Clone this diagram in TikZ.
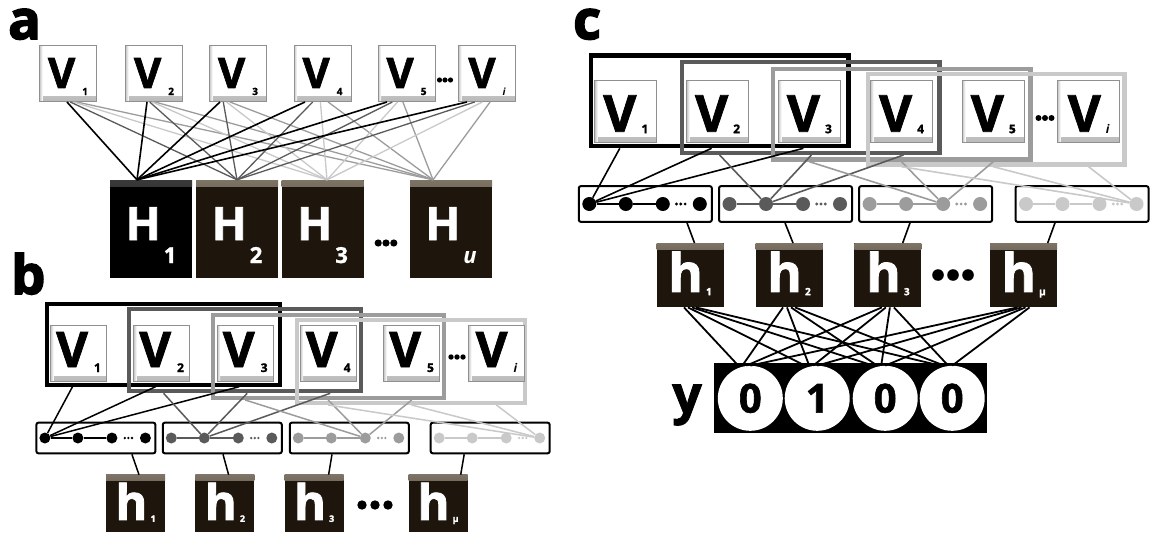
\documentclass[tikz,border=0pt]{standalone}
\usepackage{fontspec}
\newfontfamily\hv{Open Sans}[BoldFeatures={FakeBold=1.5}]
\newfontfamily\hvx{Open Sans}[BoldFeatures={FakeBold=3}]
\usetikzlibrary{calc}

\definecolor{ga}{HTML}{5A5A5A}
\definecolor{gb}{HTML}{9C9C9C}
\definecolor{gc}{HTML}{C9C9C9}
\definecolor{hbrown}{HTML}{1E160D}
\definecolor{hbtop}{HTML}{7E7466}
\definecolor{vedge}{HTML}{909090}

% letter with a lowered index at its lower right; baseline drops measured from the box centre
\newcommand\boxlab[7]{\smash{\raisebox{-#3pt}{\fontsize{#1}{#1}\selectfont #2}\hspace{#4pt}\raisebox{-#7pt}{\fontsize{#5}{#5}\selectfont #6}}}
\newcommand\Va[1]{\boxlab{42}{V}{14.5}{7}{10}{#1}{21.5}}
\newcommand\Vb[1]{\boxlab{49}{V}{13.6}{6}{12}{#1}{18.6}}
\newcommand\Vc[1]{\boxlab{51}{V}{20}{5}{12}{#1}{21.5}}
\newcommand\Ha[1]{\boxlab{46}{H}{11}{3}{22}{#1}{34}}
\newcommand\hb[1]{\boxlab{49}{h}{16.5}{3}{9}{#1}{18.5}}
\newcommand\hc[1]{\boxlab{53}{h}{16.7}{3}{10}{#1}{20}}
% three filled dots centred on a named coordinate
\newcommand\tridots[4]{\foreach \t in {-1,0,1} \fill[#4] ($(#1)+(\t*#2,0)$) circle[radius=#3pt];}

\tikzset{
  every node/.style={inner sep=0pt, font=\hv\bfseries},
  panel/.style={font={\hvx\bfseries\fontsize{54}{54}\selectfont}},
  vbox/.style={draw=vedge, line width=1pt, fill=white, path picture={
      \shade[top color=white, bottom color=gray!55] ([yshift=5pt]path picture bounding box.south west) rectangle (path picture bounding box.south east);
      \shade[left color=gray!45, right color=white] (path picture bounding box.south west) rectangle ([xshift=3pt]path picture bounding box.north west);}},
  hbox/.style 2 args={fill=#1, text=white, path picture={
      \shade[top color=#2, bottom color=#1] (path picture bounding box.north west) rectangle ([yshift=-6pt]path picture bounding box.north east);}},
  win/.style={draw=#1, line width=4pt},
  chain/.style={draw=black, line width=2pt, fill=white, rounded corners=2pt},
  unit/.style={circle, fill=#1},
}

\begin{document}
\begin{tikzpicture}[x=1pt,y=-1pt]
\useasboundingbox[fill=white] (0,0) rectangle (1153,535);

% ---------------- panel a: fully connected layers ----------------
\node[panel, anchor=base west] (la) at (8,39) {a};
\foreach \i/\x/\s in {1/68/1,2/154/2,3/238/3,4/322.5/4,5/406.5/5,6/487/{\itshape i}}
  \node[vbox, minimum width=57pt, minimum height=56pt] (va\i) at (\x,73.5) {\Va{\s}};
\coordinate (eva) at (445,80);
\tridots{eva}{5.5}{2.6}{black}

\node[hbox={black}{gray!45!black}, minimum width=82pt, minimum height=98pt] (ha1) at (151,229) {\Ha{1}};
\foreach \i/\x/\s in {2/237/2,3/322.5/3,4/451/{\itshape u}}
  \node[hbox={hbrown}{hbtop}, minimum width=82pt, minimum height=98pt] (ha\i) at (\x,229) {\Ha{\s}};
\coordinate (eha) at (386,243);
\tridots{eha}{7.8}{3.6}{black}

\foreach \j/\e/\c/\w in {4/-18/gb/1.3, 3/4.5/gc/1.3, 2/0/ga/1.3, 1/-14/black/1.6}
  \foreach \k/\b/\s in {1/-1/3.3, 2/-7/2.7, 3/-18/3.3, 4/-17.5/7.7, 5/-19.5/5.3, 6/-20/7.7}
    \draw[line width=\w pt, \c] ($(va\k.south)+({\b+\s*(\j-1)},0)$) -- ($(ha\j.north)+(\e,0)$);

% ---------------- panel b: windows onto feature maps ----------------
\node[panel, anchor=base west] (lb) at (11,294) {b};
\node[win=black, minimum width=233.5pt, minimum height=81pt] (wb1) at (163.35,344.2) {};
\node[win=ga, minimum width=231.7pt, minimum height=82.6pt] (wb2) at (244.65,350) {};
\node[win=gb, minimum width=231.7pt, minimum height=82.7pt] (wb3) at (328.55,356.65) {};
\node[win=gc, minimum width=228.2pt, minimum height=82.7pt] (wb4) at (410.7,361.65) {};

\foreach \i/\x/\s in {1/78.5/1,2/161.6/2,3/245.2/3,4/328.2/4,5/411.6/5,6/496.4/{\itshape i}}
  \node[vbox, minimum width=56pt, minimum height=56pt] (vb\i) at (\x,353.4) {\Vb{\s}};
\coordinate (evb) at (457,357);
\tridots{evb}{6}{2.7}{black}

\foreach \k/\x/\c in {1/95.9/black,2/222.3/ga,3/349.3/gb,4/490.2/gc}{
  \node[chain, minimum width=119pt, minimum height=30.6pt] (cb\k) at (\x,438) {};
  \foreach \j/\o in {1/-51,2/-18,3/16,4/49.5}
    \node[unit=\c, minimum size=11pt] (cb\k d\j) at ($(cb\k)+(\o,0)$) {};
  \draw[\c, line width=1.5pt] (cb\k d1) -- (cb\k d2) -- (cb\k d3);
  \coordinate (cb\k e) at ($(cb\k)+(32.5,0)$);
  \tridots{cb\k e}{3.6}{1.3}{\c}
}
\foreach \k/\c/\o in {1/black/-6,2/ga/2,3/gb/0,4/gc/0}
  \foreach \m in {0,1,2}{
    \pgfmathtruncatemacro\v{\k+\m}
    \draw[\c, line width=1.5pt] ($(vb\v |- wb\k.south)+(\o,0)$) -- (cb\k d\k);
  }

\foreach \i/\x/\s in {1/135.5/1,2/224.9/2,3/314.1/3,4/438/μ}
  \node[hbox={hbrown}{hbtop}, minimum width=59pt, minimum height=57pt] (hb\i) at (\x,503.4) {\hb{\s}};
\coordinate (ehb) at (375,505);
\tridots{ehb}{13}{4.7}{black}
\foreach \k/\a/\b in {1/36/3.5,2/0.7/3.7,3/-17.3/14.5,4/-26/22.7}
  \draw[black, line width=1.5pt] ($(cb\k.south)+(\a,0)$) -- ($(hb\k.north)+(\b,0)$);

% ---------------- panel c: feature maps feeding a label vector ----------------
\node[panel, anchor=base west] (lc) at (573,39) {c};
\node[win=black, minimum width=257.6pt, minimum height=90.5pt, line width=4.5pt] (wc1) at (719.65,100.8) {};
\node[win=ga, minimum width=257.5pt, minimum height=90.5pt, line width=4.5pt] (wc2) at (810.7,107.5) {};
\node[win=gb, minimum width=257.6pt, minimum height=90.5pt, line width=4.5pt] (wc3) at (901.75,114.2) {};
\node[win=gc, minimum width=256.5pt, minimum height=90.5pt, line width=4.5pt] (wc4) at (996,119.2) {};

\foreach \i/\x/\s in {1/625.8/1,2/717.6/2,3/809.4/3,4/901.5/4,5/993.3/5,6/1088.6/{\itshape i}}
  \node[vbox, minimum width=62pt, minimum height=62pt] (vc\i) at (\x,111.7) {\Vc{\s}};
\coordinate (evc) at (1045,118);
\tridots{evc}{6.5}{3}{black}

\foreach \k/\x/\c in {1/645.3/black,2/785.5/ga,3/925.6/gb,4/1082/gc}{
  \node[chain, minimum width=133pt, minimum height=35.7pt] (cc\k) at (\x,204) {};
  \foreach \j/\o in {1/-56,2/-19.5,3/17.5,4/54.5}
    \node[unit=\c, minimum size=14pt] (cc\k d\j) at ($(cc\k)+(\o,0)$) {};
  \draw[\c, line width=1.7pt] (cc\k d1) -- (cc\k d2) -- (cc\k d3);
  \coordinate (cc\k e) at ($(cc\k)+(35.5,0)$);
  \tridots{cc\k e}{4.3}{1.6}{\c}
}
\foreach \k/\c/\o in {1/black/-6,2/ga/2,3/gb/0,4/gc/0}
  \foreach \m in {0,1,2}{
    \pgfmathtruncatemacro\v{\k+\m}
    \draw[\c, line width=1.6pt] ($(vc\v |- wc\k.south)+(\o,0)$) -- (cc\k d\k);
  }

\foreach \i/\x/\s in {1/690/1,2/789/2,3/887.9/3,4/1023.5/μ}
  \node[hbox={hbrown}{hbtop}, minimum width=67pt, minimum height=64pt] (hc\i) at (\x,275.2) {\hc{\s}};
\coordinate (ehc) at (953,275);
\tridots{ehc}{15}{5.8}{black}
\foreach \k/\a/\b in {1/41.7/4.5,2/-0.5/4,3/-15.6/14.8,4/-27/24.2}
  \draw[black, line width=1.6pt] ($(cc\k.south)+(\a,0)$) -- ($(hc\k.north)+(\b,0)$);

% label vector y
\node[fill=black, minimum width=273pt, minimum height=70pt] (yv) at (850.65,398.3) {};
\foreach \j/\x/\d in {1/750.3/0,2/817.2/1,3/885.2/0,4/952.2/0}
  \node[circle, fill=white, minimum size=65pt, font={\hv\bfseries\fontsize{40}{40}\selectfont}] (yc\j) at (\x,398.3) {\d};
\node[font={\hv\bfseries\fontsize{52}{52}\selectfont}, anchor=base] (ylab) at (687,413) {y};
\foreach \i in {1,2,3,4}
  \foreach \j in {1,2,3,4}
    \draw[black, line width=1.8pt] ($(hc\i.south)+({-6+4*(\j-1)},0)$) -- ($(yc\j.north)+({-12+4*(\i-1)},0)$);
\end{tikzpicture}
\end{document}
